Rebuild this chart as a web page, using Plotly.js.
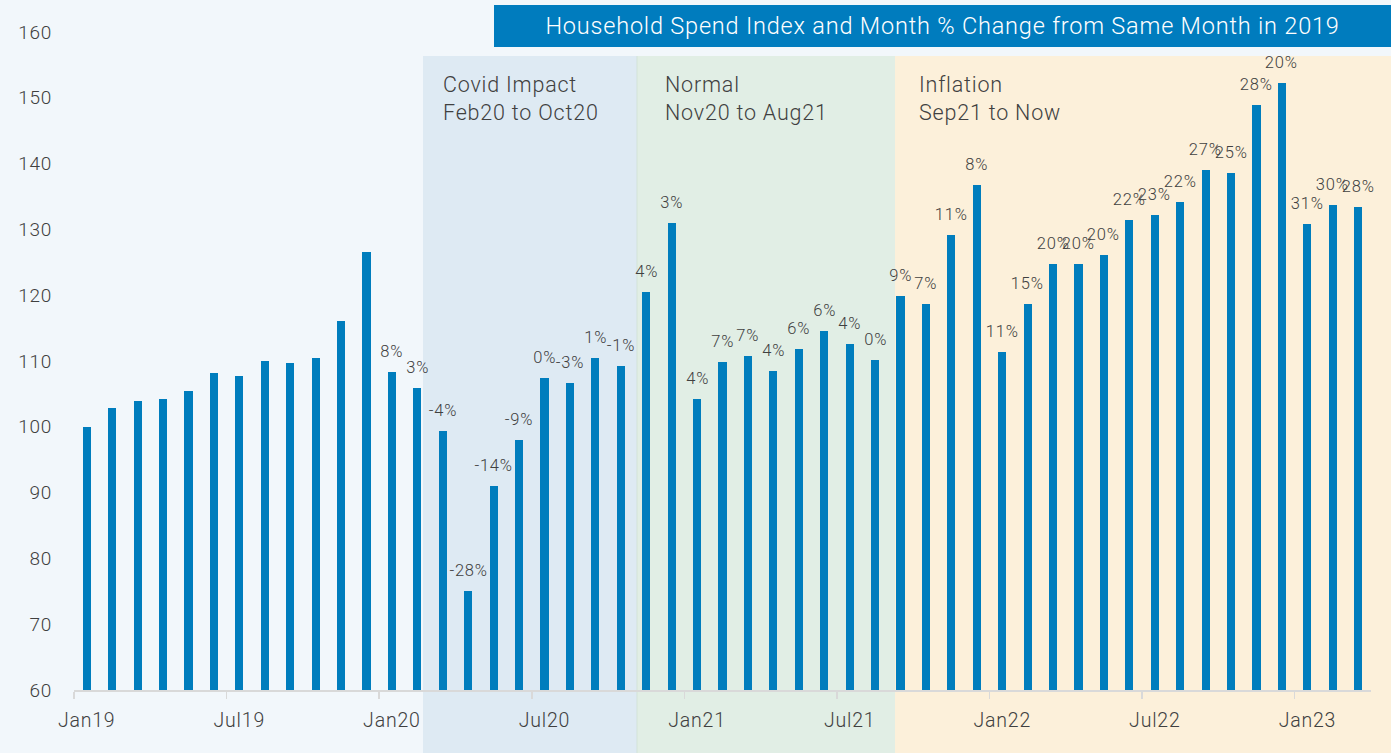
<!DOCTYPE html>
<html>
<head>
<meta charset="utf-8">
<script src="https://cdn.plot.ly/plotly-3.0.1.min.js"></script>
<style>
html,body{margin:0;padding:0;background:#f2f7fb;}
#chart{width:1391px;height:753px;}
#chart text{letter-spacing:0.8px;}
</style>
</head>
<body>
<div id="chart"></div>
<script>
const months = ['Jan19','Feb19','Mar19','Apr19','May19','Jun19','Jul19','Aug19','Sep19','Oct19','Nov19','Dec19',
  'Jan20','Feb20','Mar20','Apr20','May20','Jun20','Jul20','Aug20','Sep20','Oct20','Nov20','Dec20',
  'Jan21','Feb21','Mar21','Apr21','May21','Jun21','Jul21','Aug21','Sep21','Oct21','Nov21','Dec21',
  'Jan22','Feb22','Mar22','Apr22','May22','Jun22','Jul22','Aug22','Sep22','Oct22','Nov22','Dec22',
  'Jan23','Feb23','Mar23'];
const spendIndex = [100,102.8,103.9,104.3,105.4,108.2,107.7,110.0,109.7,110.5,116.1,126.5,
  108.3,105.9,99.4,75.1,91.0,98.0,107.4,106.7,110.4,109.3,120.5,130.9,
  104.2,109.8,110.8,108.5,111.8,114.5,112.6,110.1,119.9,118.7,129.2,136.7,
  111.3,118.6,124.7,124.8,126.1,131.5,132.2,134.2,139.0,138.6,148.9,152.3,
  130.8,133.7,133.4];
const pctChange = ['','','','','','','','','','','','',
  '8%','3%','-4%','-28%','-14%','-9%','0%','-3%','1%','-1%','4%','3%',
  '4%','7%','7%','4%','6%','6%','4%','0%','9%','7%','11%','8%',
  '11%','15%','20%','20%','20%','22%','23%','22%','27%','25%','28%','20%',
  '31%','30%','28%'];
const tickLabels = ['Jan19','Jul19','Jan20','Jul20','Jan21','Jul21','Jan22','Jul22','Jan23'];
const yTicks = [60,70,80,90,100,110,120,130,140,150,160];
const periods = [
  {name:'Covid Impact', span:'Feb20 to Oct20', px0:423, px1:637, lx:441, color:'#deeaf3'},
  {name:'Normal', span:'Nov20 to Aug21', px0:637, px1:895, lx:663, color:'#e1eee5'},
  {name:'Inflation', span:'Sep21 to Now', px0:895, px1:1391, lx:917, color:'#fcf0da'}
];
const chartTitle = 'Household Spend Index and Month % Change from Same Month in 2019';

const W = 1391, H = 753;
const M = {l:74, r:20, t:32, b:63};
const PW = W - M.l - M.r, PH = H - M.t - M.b;
const fx = p => (p - M.l) / PW;
const fy = p => (H - M.b - p) / PH;

const idx = months.map((m,i)=>i);
const tickIdx = tickLabels.map(t => months.indexOf(t));
const FONT = 'Roboto, "Open Sans", sans-serif';
const TXT = '#404040';

const trace = {
  type:'bar', x: idx, y: spendIndex,
  marker:{color:'#007dbd', line:{width:0}},
  width:0.32, hoverinfo:'skip'
};

const shapes = periods.map(p => ({
  type:'rect', xref:'paper', yref:'paper', layer:'below',
  x0: fx(p.px0), x1: fx(p.px1), y0: fy(H), y1: fy(56),
  fillcolor:p.color, line:{width:0}
}));
shapes.push({type:'line', xref:'paper', yref:'paper', layer:'below',
  x0: fx(637), x1: fx(637), y0: fy(H), y1: fy(56), line:{color:'#d3e3d8', width:1}});
shapes.push({type:'rect', xref:'paper', yref:'paper', layer:'above',
  x0: fx(494), x1: fx(W), y0: fy(47), y1: fy(5), fillcolor:'#007cbe', line:{width:0}});

const annotations = periods.map(p => ({
  xref:'paper', yref:'paper', x: fx(p.lx), y: fy(70), xanchor:'left', yanchor:'top',
  align:'left', showarrow:false, text: p.name + '<br>' + p.span,
  font:{family:FONT, size:21.5, color:TXT, weight:300}
}));
annotations.push({xref:'paper', yref:'paper', x: fx((494+W)/2), y: fy(26), xanchor:'center', yanchor:'middle',
  showarrow:false, text: chartTitle, font:{family:FONT, size:23.5, color:'#ffffff', weight:300}});

// value labels above bars, placed in data coordinates
idx.forEach(i => {
  if (!pctChange[i]) return;
  annotations.push({xref:'x', yref:'y', x:i, y:spendIndex[i], xanchor:'center', yanchor:'bottom',
    yshift:9, showarrow:false, text:pctChange[i], font:{family:FONT, size:16.5, color:TXT, weight:300}});
});

const layout = {
  width:W, height:H, margin:M,
  paper_bgcolor:'#f2f7fb', plot_bgcolor:'rgba(0,0,0,0)',
  showlegend:false, bargap:0,
  font:{family:FONT, color:TXT},
  xaxis:{range:[-0.5, months.length-0.5], tickmode:'array', tickvals:tickIdx, ticktext:tickLabels,
    ticks:'outside', ticklen:13, tickcolor:'rgba(0,0,0,0)', showgrid:false, zeroline:false,
    showline:false, tickfont:{family:FONT, size:19.5, color:TXT, weight:300}, fixedrange:true},
  xaxis2:{overlaying:'x', anchor:'y', matches:'x', range:[-0.5, months.length-0.5], tickmode:'array',
    tickvals: tickIdx.map(i=>i-0.5), showticklabels:false, ticks:'outside', ticklen:7, tickwidth:1.5,
    tickcolor:'#d9d9d9', showline:true, linecolor:'#d9d9d9', linewidth:2, showgrid:false, zeroline:false, side:'bottom'},
  yaxis:{range:[60,160], tickmode:'array', tickvals:yTicks, showgrid:false, zeroline:false, showline:false,
    ticks:'outside', ticklen:17, tickcolor:'rgba(0,0,0,0)', tickfont:{family:FONT, size:19, color:TXT, weight:300}},
  shapes: shapes, annotations: annotations
};

const lineTrace = {type:'scatter', x:[-0.5], y:[60], xaxis:'x2', mode:'markers', marker:{opacity:0}, hoverinfo:'skip'};

Plotly.newPlot('chart', [trace, lineTrace], layout, {displayModeBar:false, staticPlot:true});
</script>
</body>
</html>
